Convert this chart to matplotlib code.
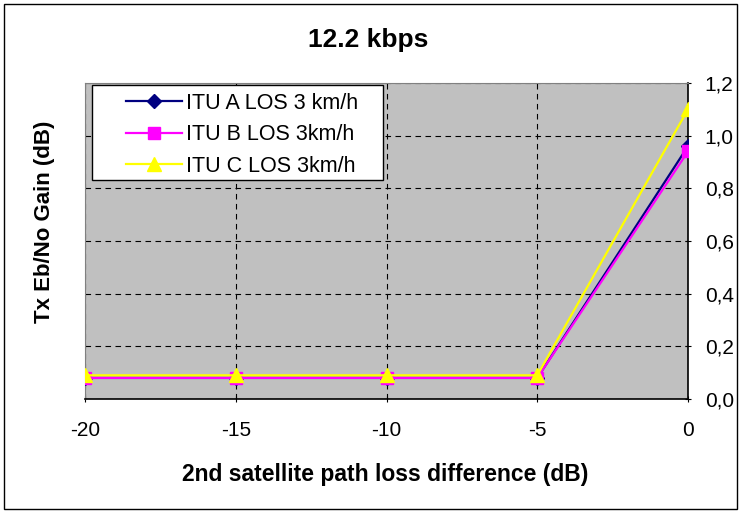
import matplotlib
matplotlib.use("Agg")
import matplotlib.pyplot as plt
from matplotlib.ticker import FuncFormatter, MultipleLocator
from matplotlib.patches import Rectangle

plt.rcParams['font.family'] = ['Liberation Sans', 'DejaVu Sans']

x = [-20, -15, -10, -5, 0]
itu_a = [0.08, 0.08, 0.08, 0.08, 0.96]
itu_b = [0.08, 0.08, 0.08, 0.08, 0.94]
itu_c = [0.09, 0.09, 0.09, 0.09, 1.10]
labels = ["ITU A LOS 3 km/h", "ITU B LOS 3km/h", "ITU C LOS 3km/h"]

W, H = 741, 513
fig = plt.figure(figsize=(W / 100, H / 100), dpi=100)
fig.patch.set_facecolor('white')
fig.add_artist(Rectangle((4 / W, 4 / H), 733 / W, 505 / H, transform=fig.transFigure,
                         fill=False, edgecolor='black', linewidth=1.0))

ax = fig.add_axes([85 / W, (H - 399) / H, 603 / W, 316 / H])
ax.set_facecolor('#c0c0c0')

ax.plot(x, itu_a, color='#000080', marker='D', markersize=7, linewidth=1.6, label=labels[0], zorder=3)
ax.plot(x, itu_b, color='#ff00ff', marker='s', markersize=9, linewidth=1.6, label=labels[1], zorder=4)
ax.plot(x, itu_c, color='#ffff00', marker='^', markersize=10, linewidth=1.6, label=labels[2], zorder=5)

ax.set_xlim(-20, 0)
ax.set_ylim(0, 1.2)
ax.xaxis.set_major_locator(MultipleLocator(5))
ax.yaxis.set_major_locator(MultipleLocator(0.2))
ax.yaxis.set_major_formatter(FuncFormatter(lambda v, p: f"{v:.1f}".replace('.', ',')))
ax.xaxis.set_major_formatter(FuncFormatter(lambda v, p: f"{int(round(v))}"))
ax.yaxis.tick_right()
ax.tick_params(axis='both', labelsize=15, length=4, direction='inout', color='black')
ax.tick_params(axis='y', pad=10)
ax.tick_params(axis='x', pad=14)
ax.grid(True, color='black', linestyle=(0, (5, 4)), linewidth=0.8)
for s in ['top', 'left']:
    ax.spines[s].set_color('#808080')
for s in ['right', 'bottom']:
    ax.spines[s].set_color('black')
    ax.spines[s].set_linewidth(1.2)

fig.text(368 / W, 1 - 40 / H, "12.2 kbps", fontsize=19, fontweight='bold', ha='center', va='center')
fig.text(385 / W, 1 - 474 / H, "2nd satellite path loss difference (dB)", fontsize=16.5,
         fontweight='bold', ha='center', va='center')
fig.text(45 / W, 1 - 222 / H, "Tx Eb/No Gain (dB)", fontsize=16, fontweight='bold',
         ha='center', va='center', rotation=90)

# legend frame
fig.add_artist(Rectangle((92 / W, 1 - 180 / H), 291 / W, 95 / H, transform=fig.transFigure,
                         facecolor='white', edgecolor='black', linewidth=1.0, zorder=6))
leg = fig.legend(*ax.get_legend_handles_labels(), loc='upper left',
                 bbox_to_anchor=(126 / W, 1 - 93 / H), fontsize=15.5, frameon=False,
                 handlelength=2.6, borderpad=0.0, labelspacing=0.48, handletextpad=0.2,
                 borderaxespad=0)
leg.set_zorder(7)

fig.savefig("out.png", dpi=100)
